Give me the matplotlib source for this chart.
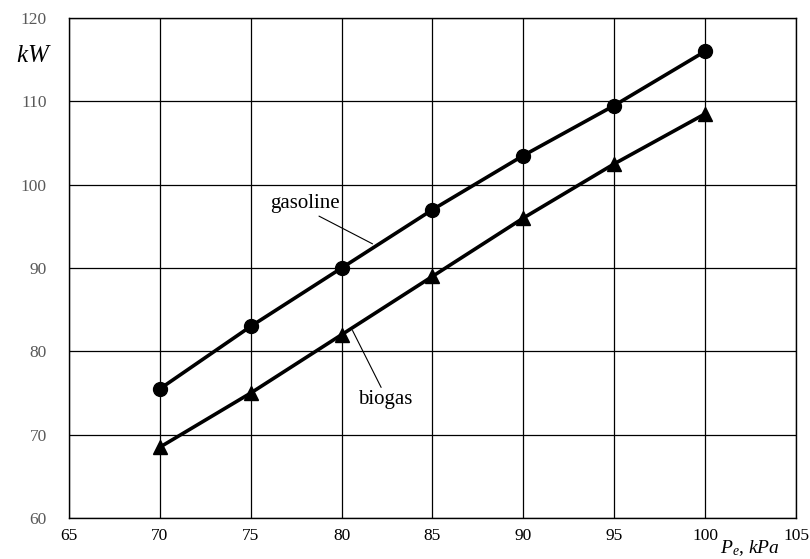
import matplotlib
matplotlib.use('Agg')
import matplotlib.pyplot as plt

# data
pressure = [70, 75, 80, 85, 90, 95, 100]
gasoline = [75.5, 83, 90, 97, 103.5, 109.5, 116]
biogas = [68.5, 75, 82, 89, 96, 102.5, 108.5]
x_ticks = [65, 70, 75, 80, 85, 90, 95, 100, 105]
y_ticks = [60, 70, 80, 90, 100, 110, 120]

plt.rcParams['font.family'] = 'Liberation Serif'
plt.rcParams['mathtext.fontset'] = 'custom'
plt.rcParams['mathtext.it'] = 'Liberation Serif:italic'
plt.rcParams['mathtext.rm'] = 'Liberation Serif'

fig = plt.figure(figsize=(8.1, 5.59), dpi=100)
ax = fig.add_axes([0.0852, 0.0733, 0.8975, 0.8945])

ax.plot(pressure, gasoline, color='black', lw=2.6, marker='o', ms=10, zorder=3)
ax.plot(pressure, biogas, color='black', lw=2.6, marker='^', ms=10, zorder=3)

ax.set_xlim(65, 105)
ax.set_ylim(60, 120)
ax.set_xticks(x_ticks)
ax.set_yticks(y_ticks)
ax.grid(True, color='black', lw=0.9)
ax.set_axisbelow(True)
for s in ax.spines.values():
    s.set_color('black')
    s.set_linewidth(1.0)
ax.tick_params(length=0)
ax.tick_params(axis='x', labelsize=12.5, colors='black', pad=7)
ax.tick_params(axis='y', labelsize=12.5, labelcolor='#595959', pad=16)

# callouts
ax.annotate('gasoline', xy=(81.7, 92.9), xytext=(78.0, 97.7),
            fontsize=15, ha='center', va='center',
            arrowprops=dict(arrowstyle='-', color='black', lw=0.8,
                            shrinkA=0, shrinkB=0, relpos=(0.62, 0.0)))
ax.annotate('biogas', xy=(80.6, 82.5), xytext=(82.4, 74.2),
            fontsize=15, ha='center', va='center',
            arrowprops=dict(arrowstyle='-', color='black', lw=0.8,
                            shrinkA=0, shrinkB=0, relpos=(0.45, 1.0)))

# axis titles
fig.text(16 / 810, 1 - 56 / 559, '$kW$', fontsize=18, ha='left', va='center')
fig.text(780 / 810, 1 / 559, r'$P_e$, $kPa$', fontsize=14,
         ha='right', va='bottom')

plt.savefig('out.png', dpi=100)
plt.close()
